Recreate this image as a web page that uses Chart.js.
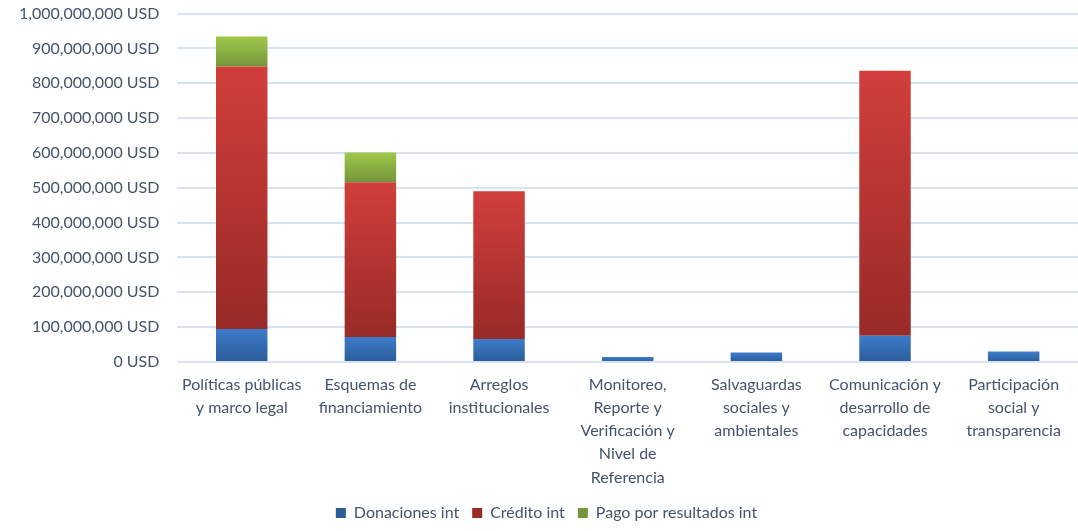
<!DOCTYPE html>
<html>
<head>
<meta charset="utf-8">
<script src="https://cdn.jsdelivr.net/npm/chart.js@4.4.0/dist/chart.umd.min.js"></script>
<style>
  html, body { margin: 0; padding: 0; background: #fff; }
  #wrap { width: 1078px; height: 531px; }
</style>
</head>
<body>
<div id="wrap"><canvas id="barChart"></canvas></div>
<script>
// categorias (eje x)
var categorias = [
    ['Políticas públicas', 'y marco legal'],
    ['Esquemas de', 'financiamiento'],
    ['Arreglos', 'institucionales'],
    ['Monitoreo,', 'Reporte y', 'Verificación y', 'Nivel de', 'Referencia'],
    ['Salvaguardas', 'sociales y', 'ambientales'],
    ['Comunicación y', 'desarrollo de', 'capacidades'],
    ['Participación', 'social y', 'transparencia']
];
var donaciones = [95000000, 72000000, 66000000, 14000000, 27000000, 75000000, 30000000];
var credito    = [753000000, 444000000, 424000000, 0, 0, 761000000, 0];
var pago       = [86000000, 85000000, 0, 0, 0, 0, 0];
var seriesNombres = ['Donaciones int', 'Crédito int', 'Pago por resultados int'];

var textColor = '#44546a';
var gridColor = '#d6e3f3';

// gradiente vertical por segmento, como en Excel
function grad(top, bottom, base) {
    return function (ctx) {
        var chart = ctx.chart;
        if (ctx.type !== 'data' || !chart.scales || !chart.scales.y || !chart.chartArea) return base;
        var i = ctx.dataIndex, d = ctx.datasetIndex;
        var below = 0;
        for (var k = 0; k < d; k++) below += chart.data.datasets[k].data[i];
        var v = chart.data.datasets[d].data[i];
        var y = chart.scales.y;
        var y0 = y.getPixelForValue(below), y1 = y.getPixelForValue(below + v);
        if (!isFinite(y0) || !isFinite(y1) || y0 === y1) return base;
        var g = chart.ctx.createLinearGradient(0, y1, 0, y0);
        g.addColorStop(0, top);
        g.addColorStop(1, bottom);
        return g;
    };
}

var data = {
    labels: categorias,
    datasets: [
        {
            label: seriesNombres[0],
            data: donaciones,
            backgroundColor: grad('#3d7ccb', '#2b5b98', '#3a75c0')
        },
        {
            label: seriesNombres[1],
            data: credito,
            backgroundColor: grad('#d13f3b', '#982a27', '#c0392b')
        },
        {
            label: seriesNombres[2],
            data: pago,
            backgroundColor: grad('#9dc94c', '#76953a', '#8fb848')
        }
    ]
};

Chart.defaults.font.family = 'Lato, "Open Sans", sans-serif';
Chart.defaults.color = textColor;

var myBarChart = new Chart(document.getElementById('barChart'), {
    type: 'bar',
    data: data,
    options: {
        responsive: true,
        maintainAspectRatio: false,
        animation: false,
        layout: { padding: { top: 5, right: 0, left: 15, bottom: 0 } },
        datasets: {
            bar: { categoryPercentage: 1, barPercentage: 0.4 }
        },
        scales: {
            x: {
                stacked: true,
                grid: { display: false },
                border: { display: false },
                ticks: {
                    color: textColor,
                    font: { size: 16, lineHeight: 1.45 },
                    maxRotation: 0,
                    autoSkip: false,
                    padding: 3
                }
            },
            y: {
                stacked: true,
                min: 0,
                max: 1000000000,
                // tick invisible = hueco entre etiqueta y area (el padding de ticks empuja el top)
                grid: { color: gridColor, lineWidth: 2, drawTicks: true, tickLength: 14, tickColor: 'rgba(0,0,0,0)' },
                border: { display: false },
                ticks: {
                    stepSize: 100000000,
                    color: textColor,
                    font: { size: 16 },
                    padding: 4,
                    callback: function (v) { return v.toLocaleString('en-US') + ' USD'; }
                }
            }
        },
        plugins: {
            legend: {
                position: 'bottom',
                labels: {
                    boxWidth: 10,
                    boxHeight: 10,
                    color: textColor,
                    font: { size: 16 },
                    padding: 13
                }
            },
            tooltip: { enabled: false }
        }
    }
});
</script>
</body>
</html>
